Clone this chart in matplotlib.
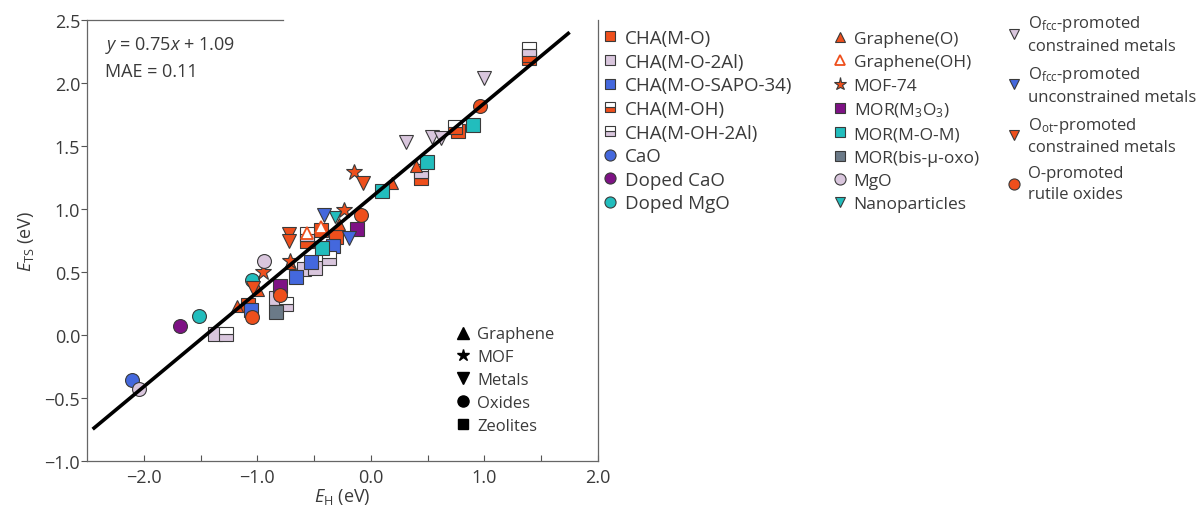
import matplotlib
matplotlib.use("Agg")
import matplotlib.pyplot as plt
from matplotlib.lines import Line2D
import numpy as np

plt.rcParams['font.family'] = ['Open Sans', 'DejaVu Sans']
plt.rcParams['mathtext.fontset'] = 'custom'
plt.rcParams['mathtext.rm'] = 'Open Sans'
plt.rcParams['mathtext.it'] = 'Open Sans:italic'

# ---------------- data ----------------
slope = 0.75
intercept = 1.09
fit_x_range = [-2.45, 1.75]

cha_mo_x = [-1.08, -0.44, -0.31, 0.77, 1.39]
cha_mo_y = [0.24, 0.83, 0.78, 1.62, 2.20]
cha_mo2al_x = [-1.37, -0.84, -0.59, -0.49]
cha_mo2al_y = [0.01, 0.29, 0.52, 0.53]
cha_sapo_x = [-1.06, -0.66, -0.53, -0.33]
cha_sapo_y = [0.20, 0.46, 0.58, 0.71]
cha_moh_x = [-0.56, 0.44, 0.74, 1.39]
cha_moh_y = [0.75, 1.25, 1.65, 2.22]
cha_moh2al_x = [-1.28, -0.75, -0.37, -0.56, 0.44, 1.39]
cha_moh2al_y = [0.01, 0.25, 0.61, 0.80, 1.30, 2.27]
cao_x = [-2.10]
cao_y = [-0.36]
doped_cao_x = [-1.68]
doped_cao_y = [0.07]
doped_mgo_x = [-1.51, -1.05]
doped_mgo_y = [0.15, 0.44]
graphene_o_x = [-1.18, -0.99, -0.71, -0.28, 0.19, 0.40]
graphene_o_y = [0.23, 0.36, 0.57, 0.88, 1.21, 1.34]
graphene_oh_x = [-0.56, -0.44]
graphene_oh_y = [0.81, 0.86]
mof74_x = [-0.95, -0.71, -0.24, -0.15]
mof74_y = [0.50, 0.59, 0.99, 1.29]
mor_m3o3_x = [-0.80, -0.12]
mor_m3o3_y = [0.39, 0.84]
mor_mom_x = [-0.43, 0.10, 0.49, 0.90]
mor_mom_y = [0.69, 1.14, 1.37, 1.67]
mor_bis_x = [-0.84]
mor_bis_y = [0.18]
mgo_x = [-2.04, -0.94]
mgo_y = [-0.43, 0.59]
nano_x = [-0.32]
nano_y = [0.94]
ofcc_con_x = [0.31, 0.54, 0.62, 1.00]
ofcc_con_y = [1.53, 1.57, 1.56, 2.04]
ofcc_uncon_x = [-0.41, -0.19]
ofcc_uncon_y = [0.95, 0.77]
oot_con_x = [-1.04, -0.72, -0.72, -0.07]
oot_con_y = [0.37, 0.80, 0.75, 1.21]
rutile_x = [-1.05, -0.80, -0.09, 0.96]
rutile_y = [0.14, 0.32, 0.95, 1.82]

x_ticks = [-2.0, -1.0, 0.0, 1.0, 2.0]
x_minor = [-1.5, -0.5, 0.5, 1.5]
y_ticks = [-1.0, -0.5, 0.0, 0.5, 1.0, 1.5, 2.0, 2.5]

# ---------------- styles ----------------
ORANGE = '#EE4F1C'
LILAC = '#D9C6DD'
BLUE = '#4468DD'
TEAL = '#22BDBD'
PURPLE = '#7E1285'
GRAY = '#6B7A88'
EDGE = '#3a3a3a'
TXT = '#3a3a3a'
FS = 13

series = [
    # label, x, y, marker, face, alt, fillstyle, size
    ('CHA(M-O)', cha_mo_x, cha_mo_y, 's', ORANGE, None, 'full', 9.5),
    ('CHA(M-O-2Al)', cha_mo2al_x, cha_mo2al_y, 's', LILAC, None, 'full', 9.5),
    ('CHA(M-O-SAPO-34)', cha_sapo_x, cha_sapo_y, 's', BLUE, None, 'full', 9.5),
    ('CHA(M-OH)', cha_moh_x, cha_moh_y, 's', ORANGE, 'white', 'bottom', 9.5),
    ('CHA(M-OH-2Al)', cha_moh2al_x, cha_moh2al_y, 's', LILAC, 'white', 'bottom', 9.5),
    ('CaO', cao_x, cao_y, 'o', BLUE, None, 'full', 10),
    ('Doped CaO', doped_cao_x, doped_cao_y, 'o', PURPLE, None, 'full', 10),
    ('Doped MgO', doped_mgo_x, doped_mgo_y, 'o', TEAL, None, 'full', 10),
    ('Graphene(O)', graphene_o_x, graphene_o_y, '^', ORANGE, None, 'full', 8.5),
    ('Graphene(OH)', graphene_oh_x, graphene_oh_y, '^', 'white', None, 'full', 8.5),
    ('MOF-74', mof74_x, mof74_y, '*', ORANGE, None, 'full', 12),
    ('MOR(M$_3$O$_3$)', mor_m3o3_x, mor_m3o3_y, 's', PURPLE, None, 'full', 9.5),
    ('MOR(M-O-M)', mor_mom_x, mor_mom_y, 's', TEAL, None, 'full', 9.5),
    ('MOR(bis-\u03bc-oxo)', mor_bis_x, mor_bis_y, 's', GRAY, None, 'full', 9.5),
    ('MgO', mgo_x, mgo_y, 'o', LILAC, None, 'full', 10),
    ('Nanoparticles', nano_x, nano_y, 'v', TEAL, None, 'full', 9),
    ('O$_\\mathrm{fcc}$-promoted\nconstrained metals', ofcc_con_x, ofcc_con_y, 'v', LILAC, None, 'full', 9.5),
    ('O$_\\mathrm{fcc}$-promoted\nunconstrained metals', ofcc_uncon_x, ofcc_uncon_y, 'v', BLUE, None, 'full', 9.5),
    ('O$_\\mathrm{ot}$-promoted\nconstrained metals', oot_con_x, oot_con_y, 'v', ORANGE, None, 'full', 9.5),
    ('O-promoted\nrutile oxides', rutile_x, rutile_y, 'o', ORANGE, None, 'full', 10),
]

fig = plt.figure(figsize=(11.98, 5.10), dpi=100)
ax = fig.add_axes([87/1198, 1-462/510, (598-87)/1198, (462-21)/510])

handles = []
for label, xs, ys, mk, fc, alt, fs, ms in series:
    ec = ORANGE if label == 'Graphene(OH)' else EDGE
    mew = 1.3 if label == 'Graphene(OH)' else 0.8
    kw = dict(marker=mk, linestyle='none', markersize=ms, markerfacecolor=fc,
              markeredgecolor=ec, markeredgewidth=mew, fillstyle=fs)
    if alt is not None:
        kw['markerfacecoloralt'] = alt
    ax.plot(xs, ys, zorder=3, **kw)
    hkw = dict(kw)
    hkw['markersize'] = ms * 0.8
    handles.append(Line2D([], [], label=label, **hkw))

fx = np.array(fit_x_range)
ax.plot(fx, slope * fx + intercept, color='black', lw=2.6, zorder=5, solid_capstyle='butt')

ax.set_xlim(-2.5, 2.0)
ax.set_ylim(-1.0, 2.5)
ax.set_xticks(x_ticks)
ax.set_xticks(x_minor, minor=True)
ax.set_xticklabels([f'{v:.1f}'.replace('-', '\u2212') for v in x_ticks])
ax.set_yticks(y_ticks)
ax.set_yticklabels([f'{v:.1f}'.replace('-', '\u2212') for v in y_ticks])
ax.tick_params(axis='x', which='both', direction='in', length=4, width=0.8,
               color='#555555', labelsize=FS, labelcolor=TXT, pad=5)
ax.tick_params(axis='y', direction='out', length=4, width=0.8,
               color='#555555', labelsize=FS, labelcolor=TXT, pad=1)
for s in ax.spines.values():
    s.set_color('#666666')
    s.set_linewidth(0.9)
ax.spines['top'].set_bounds(-2.5, -0.77)

ax.set_xlabel('$E_\\mathrm{H}$ (eV)', fontsize=FS, color=TXT, labelpad=0)
ax.set_ylabel('$E_\\mathrm{TS}$ (eV)', fontsize=FS, color=TXT, labelpad=6)

ax.text(0.035, 0.945, '$y$ = 0.75$x$ + 1.09', transform=ax.transAxes, fontsize=13,
        color=TXT, va='center', ha='left')
ax.text(0.035, 0.885, 'MAE = 0.11', transform=ax.transAxes, fontsize=13,
        color=TXT, va='center', ha='left')

# inner class legend
cls_handles = [Line2D([], [], marker=m, color='black', linestyle='none', markersize=ms, label=l)
               for m, l, ms in [('^', 'Graphene', 8), ('*', 'MOF', 9), ('v', 'Metals', 8),
                                ('o', 'Oxides', 8), ('s', 'Zeolites', 7)]]
ax.legend(handles=cls_handles, loc='upper left', bbox_to_anchor=(0.72, 0.305),
          frameon=False, fontsize=12, handlelength=1.0, handletextpad=0.35,
          labelspacing=0.41, borderaxespad=0, borderpad=0, labelcolor=TXT)

common = dict(frameon=False, handlelength=1.0, handletextpad=0.3,
              borderpad=0, borderaxespad=0, labelcolor=TXT)
fig.legend(handles=handles[0:8], loc='upper left', bbox_to_anchor=(601/1198, 1-30/510),
           labelspacing=0.30, fontsize=13.5, **common)
fig.legend(handles=handles[8:16], loc='upper left', bbox_to_anchor=(831/1198, 1-32/510),
           labelspacing=0.41, fontsize=12.5, **common)
leg3 = fig.legend(handles=handles[16:20], loc='upper left', bbox_to_anchor=(1006/1198, 1-14/510),
                  labelspacing=0.6, fontsize=12, **common)
for t in leg3.get_texts():
    t.set_linespacing(1.4)

fig.savefig('out.png', dpi=100)
